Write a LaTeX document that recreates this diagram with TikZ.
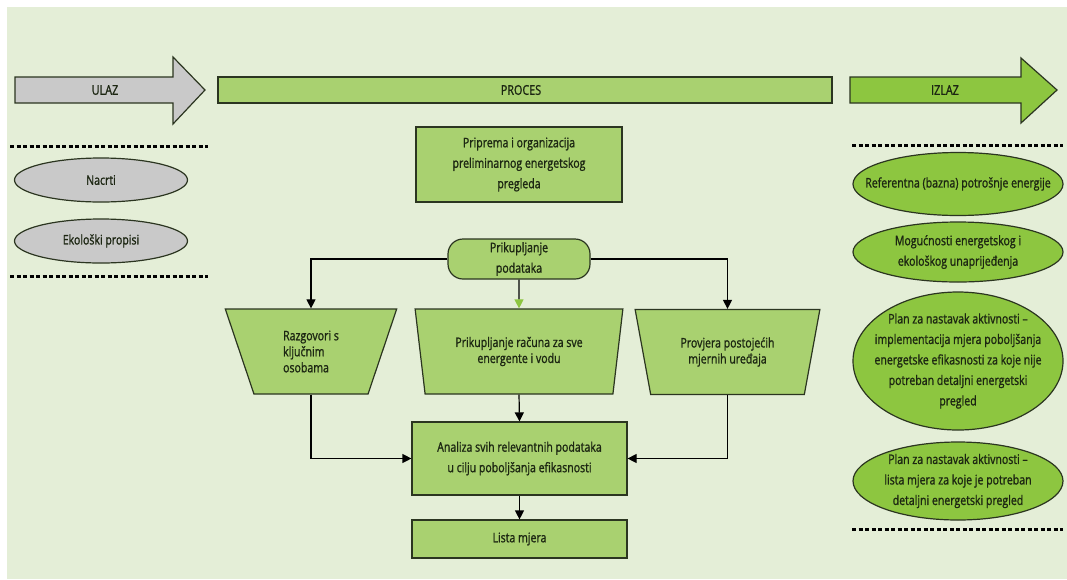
\documentclass[tikz,border=0pt]{standalone}
\usepackage{fontspec}
\setmainfont{Open Sans}[FakeStretch=0.8, FakeBold=1.2]
\usetikzlibrary{shapes.geometric,arrows.meta}

\definecolor{panel}{HTML}{E4EED7}
\definecolor{grayfill}{HTML}{C9C9C9}
\definecolor{procgreen}{HTML}{A9D170}
\definecolor{outgreen}{HTML}{8DC640}
\definecolor{edge}{HTML}{2B3520}
\definecolor{ink}{HTML}{1C2612}

\tikzset{
	txt/.style={text=ink, font=\fontsize{13.2}{20.5}\selectfont, align=center, inner sep=0pt},
	box/.style={txt, draw=edge, fill=procgreen, line width=1.2pt},
	pill/.style={box, rounded corners=15},
	trap/.style={box, trapezium, trapezium stretches=true, font=\fontsize{13.2}{16}\selectfont},
	inoval/.style={txt, ellipse, draw=edge, fill=grayfill, line width=1.2pt, inner sep=-40pt},
	outoval/.style={txt, ellipse, draw=edge, fill=outgreen, line width=1.2pt, inner sep=-40pt},
	header/.style={draw=edge, line width=1.2pt},
	headtxt/.style={txt, font=\fontsize{13.5}{16}\selectfont},
	dotline/.style={line width=3pt, dash pattern=on 4pt off 2.5pt},
	conn/.style={line width=1.2pt, -{Triangle[length=9pt,width=9pt]}}
}

\begin{document}
\begin{tikzpicture}[x=1pt, y=-1pt]
	% Background:
	\useasboundingbox (0,0) rectangle (1067,579);
	\fill[white] (0,0) rectangle (1067,579);
	\fill[panel] (7,7) rectangle (1067,579);

	% Header arrows:
	\draw[header, fill=grayfill] (15,77) -- (173,77) -- (173,57) -- (205,90) -- (173,124) -- (173,103) -- (15,103) -- cycle;
	\draw[header, fill=procgreen] (218,77) rectangle (832,103);
	\draw[header, fill=outgreen] (850,77) -- (1021,77) -- (1021,58) -- (1057,90) -- (1021,123) -- (1021,103) -- (850,103) -- cycle;
	\node[headtxt] (ulaz) at (105,90) {ULAZ};
	\node[headtxt] (proces) at (521,90) {PROCES};
	\node[headtxt] (izlaz) at (945,90) {IZLAZ};

	% Dotted separators:
	\draw[dotline] (10,146) -- (208,146);
	\draw[dotline] (10,276) -- (208,276);
	\draw[dotline] (852,145) -- (1063,145);
	\draw[dotline] (852,529) -- (1063,529);

	% Inputs:
	\node[inoval, minimum width=173, minimum height=44] (nacrti) at (101,180) {Nacrti};
	\node[inoval, minimum width=173, minimum height=44] (eko) at (101,241) {Ekološki propisi};

	% Process:
	\node[box, minimum width=206, minimum height=75] (prip) at (519,164.5) {Priprema i organizacija\\preliminarnog energetskog\\pregleda};
	\node[pill, minimum width=142, minimum height=40] (prik) at (519,259) {Prikupljanje\\podataka};
	\node[trap, trapezium left angle=108.5, trapezium right angle=108.5, minimum width=172, minimum height=85, align=left] (razg) at (311,351.5) {Razgovori s\\ključnim\\osobama};
	\node[trap, trapezium left angle=103, trapezium right angle=103, minimum width=208, minimum height=85] (rac) at (519,351.5) {Prikupljanje računa za sve\\energente i vodu};
	\node[trap, trapezium left angle=108, trapezium right angle=108, minimum width=185, minimum height=85] (prov) at (727.5,352) {Provjera postojećih\\mjernih uređaja};
	\node[box, minimum width=215, minimum height=73] (anal) at (519.5,458.5) {Analiza svih relevantnih podataka\\u cilju poboljšanja efikasnosti};
	\node[box, minimum width=215, minimum height=38] (lista) at (519.5,539) {Lista mjera};

	% Outputs:
	\node[outoval, minimum width=210, minimum height=63] (ref) at (958,184) {Referentna (bazna) potrošnje energije};
	\node[outoval, minimum width=210, minimum height=60] (mog) at (958,252) {Mogućnosti energetskog i\\ekološkog unaprijeđenja};
	\node[outoval, minimum width=210, minimum height=138] (plana) at (958,361) {Plan za nastavak aktivnosti –\\implementacija mjera poboljšanja\\energetske efikasnosti za koje nije\\potreban detaljni energetski\\pregled};
	\node[outoval, minimum width=210, minimum height=78] (planb) at (958,481) {Plan za nastavak aktivnosti –\\lista mjera za koje je potreban\\detaljni energetski pregled};

	% Connectors:
	\draw[conn] (prik.west) -| (razg.north);
	\draw[conn] (prik.east) -| (prov.north);
	\draw[line width=1.2pt, -{Triangle[length=9pt,width=9pt,color=outgreen]}] (prik.south) -- (rac.north);
	\draw[conn] (razg.south) |- (anal.west);
	\draw[conn] (rac.south) -- (anal.north);
	\draw[conn] (prov.south) |- (anal.east);
	\draw[conn] (anal.south) -- (lista.north);
\end{tikzpicture}
\end{document}
